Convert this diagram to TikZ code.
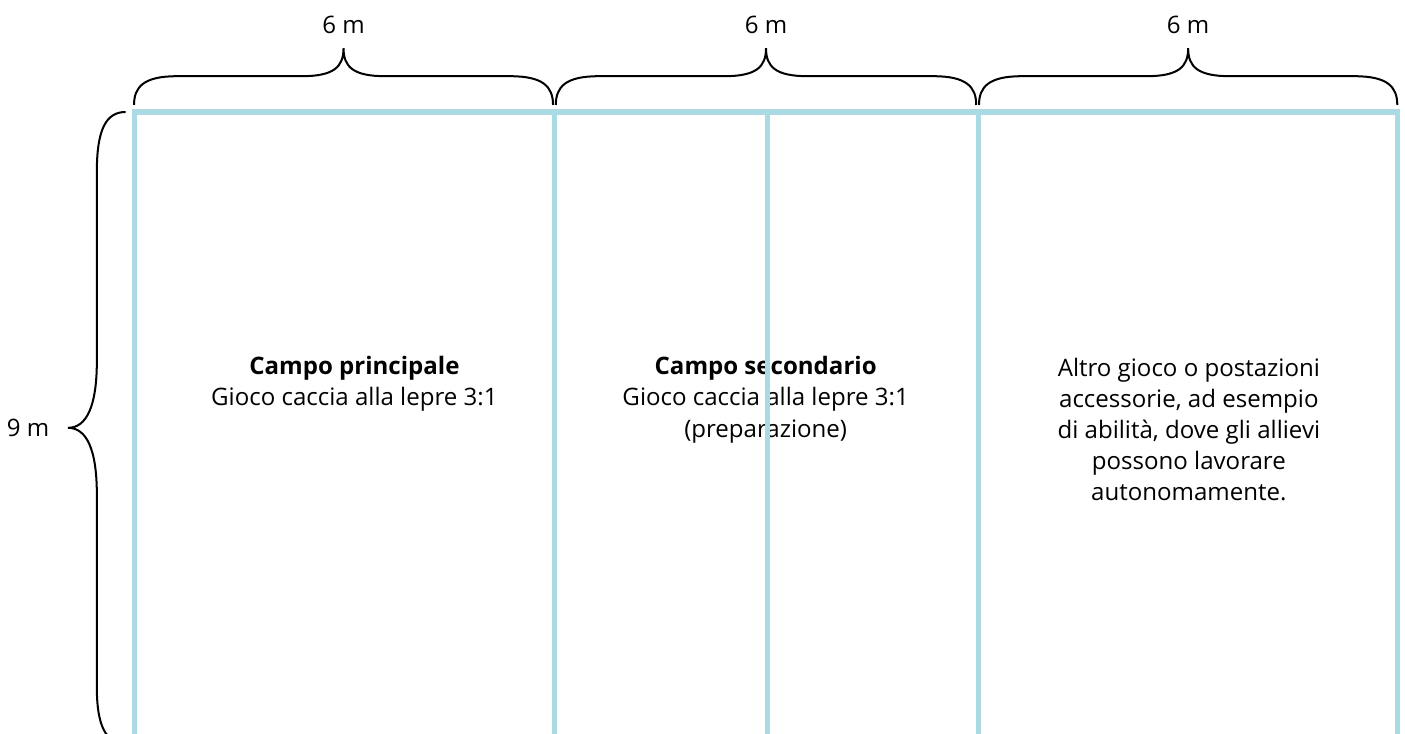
\documentclass[tikz,border=0pt]{standalone}
\usepackage{fontspec}
\setmainfont{Open Sans}
\usepackage{tikz}
\definecolor{fieldblue}{RGB}{170,219,228}
\tikzset{
  fieldline/.style={draw=fieldblue, line width=2.5pt},
  bracepath/.style={draw=black, line width=1pt},
  measure/.style={font=\fontsize{12}{15.5}\selectfont},
  fieldtext/.style={font=\fontsize{12}{15.5}\selectfont, align=center, anchor=north, inner sep=0pt}
}
% one unit = 1 m on the floor
\def\fieldbox{(0,0) rectangle (18,-9)}
\def\viewbox{(-1.91,1.596) rectangle (18.11,-8.85)}

\begin{document}
\begin{tikzpicture}[x=35pt,y=35pt]
\useasboundingbox \viewbox;
\clip \viewbox;
% texts first, the lines run over them
\node[fieldtext] (main) at (3.14,-3.48) {\textbf{Campo principale}\\Gioco caccia alla lepre 3:1};
\node[fieldtext] (second) at (9.0,-3.48) {\textbf{Campo secondario}\\Gioco caccia alla lepre 3:1\\(preparazione)};
\node[fieldtext] (other) at (15.03,-3.50) {Altro gioco o postazioni\\accessorie, ad esempio\\di abilità, dove gli allievi\\possono lavorare\\autonomamente.};
% the field
\draw[fieldline] \fieldbox;
\foreach \x in {5.99,9.03,12.03}
  \draw[fieldline] (\x,0) -- (\x,-9);
% widths
\foreach \a/\b [count=\i] in {0/5.97, 6.01/12, 12.04/18} {
  \pgfmathsetmacro\c{(\a+\b)/2}
  \draw[bracepath] (\a,0.1) .. controls (\a,0.36) and (\a+0.14,0.51) .. (\a+0.61,0.51)
    -- (\c-0.6,0.51) .. controls (\c-0.14,0.51) and (\c,0.64) .. (\c,0.91)
    .. controls (\c,0.64) and (\c+0.14,0.51) .. (\c+0.6,0.51)
    -- (\b-0.61,0.51) .. controls (\b-0.14,0.51) and (\b,0.36) .. (\b,0.1);
  \node[measure] (width\i) at (\c,1.24) {6 m};
}
% length
\draw[bracepath] (-0.12,0) .. controls (-0.4,0) and (-0.53,-0.25) .. (-0.53,-0.85)
  -- (-0.53,-3.55) .. controls (-0.53,-4.2) and (-0.68,-4.5) .. (-0.94,-4.5)
  .. controls (-0.68,-4.5) and (-0.53,-4.8) .. (-0.53,-5.45)
  -- (-0.53,-8.2) .. controls (-0.53,-8.75) and (-0.4,-9) .. (-0.12,-9);
\node[measure] (length) at (-1.51,-4.5) {9 m};
\end{tikzpicture}
\end{document}
